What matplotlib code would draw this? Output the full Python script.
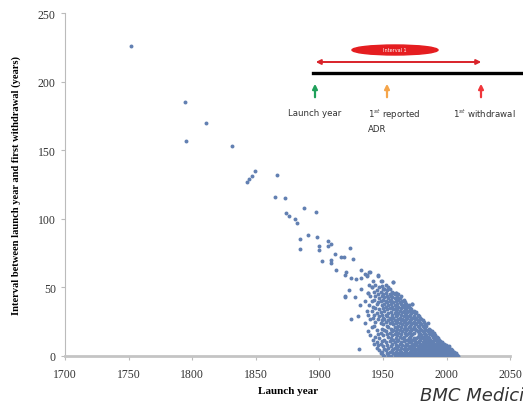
import matplotlib
matplotlib.use("Agg")
import matplotlib.pyplot as plt
from matplotlib.patches import Ellipse, FancyArrowPatch
from matplotlib.lines import Line2D

# early, sparse launches (year, interval)
early_years = [1752, 1794, 1795, 1811, 1831, 1843, 1845, 1847, 1849, 1865, 1867,
               1873, 1874, 1876, 1881, 1882, 1885, 1885, 1888, 1891, 1897, 1898,
               1900, 1900, 1902, 1907, 1907, 1909, 1909, 1909, 1912, 1913, 1917,
               1919, 1920, 1920, 1920, 1921, 1923, 1924, 1925, 1925, 1926, 1928,
               1929, 1930, 1931, 1932, 1933, 1933, 1933, 1937, 1938, 1940, 1941,
               1946, 1949, 1951, 1956, 1958, 1960, 1966, 1973]
early_intervals = [226, 185, 157, 170, 153, 127, 129, 131, 135, 116, 132,
                   115, 104, 102, 100, 97, 85, 78, 108, 88, 105, 87,
                   80, 77, 69, 84, 80, 82, 70, 68, 74, 63, 72,
                   72, 59, 44, 43, 61, 48, 79, 57, 27, 71, 43,
                   56, 29, 5, 37, 57, 63, 49, 59, 46, 61, 50,
                   59, 55, 49, 44, 54, 46, 40, 38]

# dense cloud of recent launches
cluster_years = (
    [1936] * 3 + [1937] * 2 + [1938] * 3 + [1939] * 3 + [1940] * 3 + [1941] * 4
    + [1942] * 4 + [1943] * 5 + [1944] * 5 + [1945] * 6 + [1946] * 6 + [1947] * 6
    + [1948] * 8 + [1949] * 8 + [1950] * 9 + [1951] * 9 + [1952] * 9 + [1953] * 9
    + [1954] * 9 + [1955] * 9 + [1956] * 9 + [1957] * 9 + [1958] * 10 + [1959] * 10
    + [1960] * 10 + [1961] * 10 + [1962] * 10 + [1963] * 10 + [1964] * 10 + [1965] * 10
    + [1966] * 10 + [1967] * 9 + [1968] * 10 + [1969] * 10 + [1970] * 10 + [1971] * 10
    + [1972] * 10 + [1973] * 10 + [1974] * 10 + [1975] * 8 + [1976] * 8 + [1977] * 9
    + [1978] * 9 + [1979] * 8 + [1980] * 9 + [1981] * 8 + [1982] * 8 + [1983] * 8
    + [1984] * 8 + [1985] * 8 + [1986] * 8 + [1987] * 7 + [1988] * 7 + [1989] * 7
    + [1990] * 7 + [1991] * 6 + [1992] * 7 + [1993] * 6 + [1994] * 6 + [1995] * 5
    + [1996] * 6 + [1997] * 5 + [1998] * 5 + [1999] * 4 + [2000] * 5 + [2001] * 4
    + [2002] * 4 + [2003] * 3 + [2004] * 3 + [2005] * 3 + [2006] * 3 + [2007] * 2
    + [2008] * 2 + [2009] * 1
)
cluster_intervals = [
    60, 40, 24,
    58, 33,
    46, 30, 18,
    61, 52, 37,
    44, 27, 15,
    50, 40, 33, 21,
    55, 36, 28, 12,
    47, 41, 30, 22, 9,
    52, 44, 35, 25, 14,
    48, 38, 31, 19, 10, 6,
    58, 45, 39, 27, 16, 8,
    50, 42, 34, 29, 13, 4,
    55, 47, 40, 32, 24, 17, 9, 2,
    51, 44, 37, 30, 26, 20, 11, 3,
    49, 45, 41, 35, 28, 23, 15, 7, 1,
    49, 43, 38, 33, 27, 19, 12, 5, 0,
    52, 46, 40, 36, 30, 25, 18, 10, 4,
    48, 44, 39, 34, 29, 22, 16, 8, 2,
    50, 42, 37, 31, 26, 21, 14, 6, 1,
    49, 45, 40, 35, 28, 24, 17, 11, 3,
    44, 41, 38, 32, 27, 20, 13, 7, 0,
    47, 43, 36, 30, 25, 18, 15, 9, 4,
    54, 46, 39, 34, 28, 23, 19, 12, 5, 2,
    45, 42, 37, 31, 26, 21, 16, 10, 6, 1,
    46, 40, 35, 33, 29, 24, 18, 13, 8, 3,
    43, 38, 34, 30, 25, 20, 15, 11, 5, 0,
    45, 41, 36, 31, 27, 22, 17, 12, 7, 2,
    42, 39, 33, 28, 24, 19, 14, 9, 4, 1,
    44, 38, 35, 30, 26, 21, 16, 10, 6, 3,
    40, 36, 32, 27, 23, 18, 13, 8, 2, 0,
    41, 37, 33, 29, 25, 20, 14, 11, 5, 1,
    39, 35, 31, 26, 22, 17, 12, 7, 3,
    38, 34, 30, 27, 23, 19, 15, 9, 4, 0,
    36, 32, 28, 24, 20, 16, 12, 8, 5, 2,
    37, 33, 29, 25, 21, 17, 13, 10, 6, 1,
    35, 30, 26, 22, 18, 14, 11, 7, 3, 0,
    34, 31, 27, 23, 19, 15, 10, 6, 4, 2,
    38, 32, 28, 24, 20, 16, 12, 8, 5, 1,
    33, 29, 25, 21, 17, 13, 9, 6, 3, 0,
    31, 27, 23, 20, 11, 8, 4, 2,
    32, 28, 24, 19, 13, 9, 5, 1,
    30, 26, 22, 18, 14, 10, 7, 3, 0,
    29, 25, 21, 17, 15, 11, 6, 4, 2,
    28, 24, 20, 16, 12, 9, 5, 1,
    27, 23, 19, 15, 13, 8, 6, 3, 0,
    26, 22, 18, 14, 10, 7, 4, 2,
    25, 21, 17, 13, 11, 8, 5, 1,
    23, 20, 16, 12, 9, 6, 3, 0,
    22, 19, 15, 13, 10, 7, 4, 2,
    24, 18, 14, 11, 8, 5, 3, 1,
    20, 17, 13, 10, 7, 4, 2, 0,
    19, 16, 12, 9, 6, 3, 1,
    18, 15, 11, 8, 5, 2, 0,
    17, 14, 10, 7, 4, 3, 1,
    17, 13, 9, 6, 5, 2, 0,
    15, 12, 8, 6, 3, 1,
    14, 11, 9, 7, 4, 2, 0,
    13, 10, 7, 5, 3, 1,
    12, 9, 6, 4, 2, 0,
    11, 8, 6, 3, 1,
    10, 7, 5, 4, 2, 0,
    9, 7, 5, 3, 1,
    9, 6, 4, 2, 0,
    8, 5, 3, 1,
    7, 5, 4, 2, 0,
    6, 4, 3, 1,
    7, 5, 2, 0,
    5, 3, 1,
    4, 2, 0,
    3, 1, 0,
    3, 2, 0,
    2, 1,
    1, 0,
    0,
]

x_ticks = [1700, 1750, 1800, 1850, 1900, 1950, 2000, 2050]
y_ticks = [0, 50, 100, 150, 200, 250]

fig = plt.figure(figsize=(5.23, 4.02), dpi=100)
ax = fig.add_axes([0.124, 0.112, 0.852, 0.853])

dot = "#6280b2"
ax.scatter(early_years, early_intervals, s=8, color=dot, linewidths=0, zorder=3)
ax.scatter(cluster_years, cluster_intervals, s=8, color=dot, linewidths=0, zorder=3)

ax.set_xlim(1700, 2050)
ax.set_ylim(0, 250)
ax.set_xticks(x_ticks)
ax.set_yticks(y_ticks)
serif = "Liberation Serif"
for lab in ax.get_xticklabels() + ax.get_yticklabels():
    lab.set_fontfamily(serif)
    lab.set_fontsize(8.5)
    lab.set_color("#333333")
ax.tick_params(axis="both", length=3, color="#bbbbbb", width=0.8)
ax.tick_params(axis="x", pad=6)

for s in ["top", "right"]:
    ax.spines[s].set_visible(False)
ax.spines["left"].set_color("#bbbbbb")
ax.spines["left"].set_linewidth(0.8)
ax.spines["bottom"].set_color("#c4c4c4")
ax.spines["bottom"].set_linewidth(2)

ax.set_xlabel("Launch year", fontfamily=serif, fontweight="bold", fontsize=8, labelpad=4)
ax.set_ylabel("Interval between launch year and first withdrawal (years)",
              fontfamily=serif, fontweight="bold", fontsize=7.6, labelpad=12)

# timeline inset
tl_y = 1 - 74 / 402
fig.add_artist(Line2D([313 / 523, 1.0], [tl_y, tl_y], color="black", lw=2.4,
                      transform=fig.transFigure))
arr_y = 1 - 63 / 402
fig.add_artist(FancyArrowPatch((313 / 523, arr_y), (484 / 523, arr_y),
                               transform=fig.transFigure, arrowstyle="<|-|>",
                               mutation_scale=7, color="#d9232a", lw=1.4))
fig.add_artist(Ellipse((395 / 523, 1 - 51 / 402), 86 / 523, 10 / 402,
                       transform=fig.transFigure, color="#e51d20"))
fig.text(395 / 523, 1 - 51 / 402, "Interval 1", color="white", fontsize=3.5,
         ha="center", va="center")

for px, col in [(315, "#1fa05a"), (387, "#f5a54a"), (481, "#f0363a")]:
    fig.add_artist(FancyArrowPatch((px / 523, 1 - 101 / 402), (px / 523, 1 - 82 / 402),
                                   transform=fig.transFigure, arrowstyle="-|>",
                                   mutation_scale=7, color=col, lw=1.6))

lab_font = dict(fontsize=6.2, color="#333333", va="top")
fig.text(315 / 523, 1 - 109 / 402, "Launch year", ha="center", **lab_font)
fig.text(368 / 523, 1 - 108 / 402, "1$^{st}$ reported\nADR", ha="left",
         linespacing=1.4, **lab_font)
fig.text(453 / 523, 1 - 108 / 402, "1$^{st}$ withdrawal", ha="left", **lab_font)

fig.text(420 / 523, -3 / 402, "BMC Medicine", fontsize=13, style="italic",
         color="#333333", ha="left", va="bottom")

fig.savefig("out.png", dpi=100)
